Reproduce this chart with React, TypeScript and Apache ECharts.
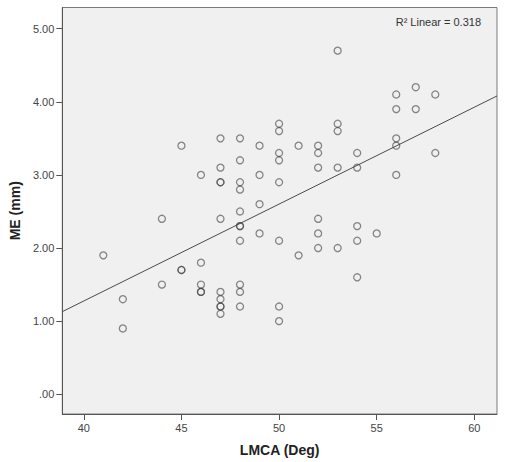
import React, { useEffect, useRef } from "react";
import * as echarts from "echarts";

// LMCA (Deg) values, grouped by x, with ME (mm) values
const lmca: number[] = [
  41,
  42, 42,
  44, 44,
  45, 45, 45,
  46, 46, 46, 46, 46,
  47, 47, 47, 47, 47, 47, 47, 47, 47, 47,
  48, 48, 48, 48, 48, 48, 48, 48, 48, 48, 48,
  49, 49, 49, 49,
  50, 50, 50, 50, 50, 50, 50, 50,
  51, 51,
  52, 52, 52, 52, 52, 52,
  53, 53, 53, 53, 53,
  54, 54, 54, 54, 54,
  55,
  56, 56, 56, 56, 56,
  57, 57,
  58, 58,
];
const me: number[] = [
  1.9,
  1.3, 0.9,
  2.4, 1.5,
  3.4, 1.7, 1.7,
  3.0, 1.8, 1.5, 1.4, 1.4,
  3.5, 3.1, 2.9, 2.9, 2.4, 1.4, 1.3, 1.2, 1.2, 1.1,
  3.5, 3.2, 2.9, 2.8, 2.5, 2.3, 2.3, 2.1, 1.5, 1.4, 1.2,
  3.4, 3.0, 2.6, 2.2,
  3.7, 3.6, 3.3, 3.2, 2.9, 2.1, 1.2, 1.0,
  3.4, 1.9,
  3.4, 3.3, 3.1, 2.4, 2.2, 2.0,
  4.7, 3.7, 3.6, 3.1, 2.0,
  3.3, 3.1, 2.3, 2.1, 1.6,
  2.2,
  4.1, 3.9, 3.5, 3.4, 3.0,
  4.2, 3.9,
  4.1, 3.3,
];

// Fit line end points
const fitX: number[] = [38.9, 61.16];
const fitY: number[] = [1.13, 4.08];

const xTicks: number[] = [40, 45, 50, 55, 60];
const yTicks: number[] = [0, 1, 2, 3, 4, 5];
const yTickLabels: string[] = [".00", "1.00", "2.00", "3.00", "4.00", "5.00"];

const xTitle = "LMCA (Deg)";
const yTitle = "ME (mm)";
const r2Label = "R² Linear = 0.318";

export default function App() {
  const ref = useRef<HTMLDivElement>(null);
  useEffect(() => {
    if (!ref.current) return;
    const chart = echarts.init(ref.current, undefined, { renderer: "svg" });
    const font = "Liberation Sans, Arial, sans-serif";
    const points = lmca.map((x, i) => [x, me[i]]);
    const fit = fitX.map((x, i) => [x, fitY[i]]);
    chart.setOption({
      animation: false,
      backgroundColor: "#ffffff",
      textStyle: { fontFamily: font },
      grid: {
        left: 54.5,
        right: 9,
        top: 7.5,
        bottom: 45.3,
        show: true,
        backgroundColor: "#f0f0f0",
        borderColor: "#7a7a7a",
        borderWidth: 1,
      },
      xAxis: {
        type: "value",
        min: 38.9,
        max: 61.16,
        name: xTitle,
        nameLocation: "middle",
        nameGap: 29,
        nameTextStyle: { fontSize: 14, fontWeight: "bold", color: "#222", fontFamily: font },
        axisLine: { show: true, onZero: false, lineStyle: { color: "#555", width: 1 } },
        axisTick: { show: true, length: 6, customValues: xTicks, lineStyle: { color: "#555" } },
        axisLabel: {
          customValues: xTicks,
          margin: 8,
          fontSize: 11,
          color: "#444",
          fontFamily: font,
        },
        splitLine: { show: false },
      },
      yAxis: {
        type: "value",
        min: -0.27,
        max: 5.29,
        name: yTitle,
        nameLocation: "middle",
        nameGap: 38,
        nameTextStyle: { fontSize: 14, fontWeight: "bold", color: "#222", fontFamily: font },
        axisLine: { show: true, onZero: false, lineStyle: { color: "#555", width: 1 } },
        axisTick: { show: true, length: 6, customValues: yTicks, lineStyle: { color: "#555" } },
        axisLabel: {
          customValues: yTicks,
          margin: 8,
          fontSize: 11,
          color: "#444",
          fontFamily: font,
          formatter: (v: number) => {
            const idx = yTicks.findIndex((t) => Math.abs(t - v) < 1e-6);
            return idx >= 0 ? yTickLabels[idx] : "";
          },
        },
        splitLine: { show: false },
      },
      graphic: [
        {
          type: "text",
          right: 25,
          top: 16,
          style: {
            text: r2Label,
            fontSize: 11,
            fill: "#333",
            fontFamily: font,
          },
        },
      ],
      series: [
        {
          type: "line",
          data: fit,
          symbol: "none",
          lineStyle: { color: "#4a4a4a", width: 1 },
          silent: true,
          z: 2,
        },
        {
          type: "scatter",
          data: points,
          symbol: "circle",
          symbolSize: 7,
          itemStyle: {
            color: "rgba(0,0,0,0)",
            borderColor: "rgba(60,60,60,0.75)",
            borderWidth: 1.3,
          },
          z: 3,
        },
      ],
    });
    return () => chart.dispose();
  }, []);
  return (
    <div
      ref={ref}
      style={{ position: "absolute", left: 0, top: 0, width: 506, height: 462 }}
    />
  );
}
